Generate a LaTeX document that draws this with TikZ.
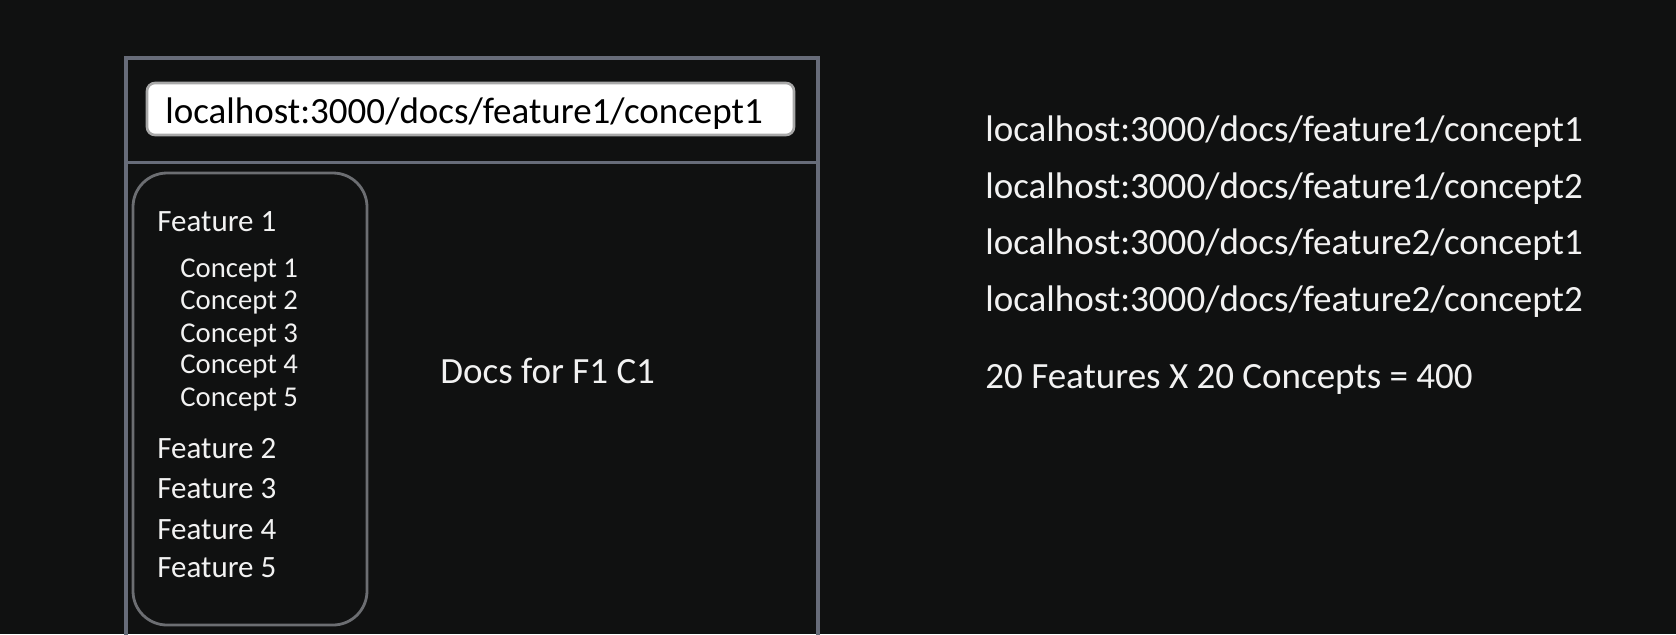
\documentclass[tikz,border=0pt]{standalone}
\usepackage{fontspec}
\setmainfont{Carlito}
\definecolor{bg}{HTML}{101111}
\definecolor{fg}{HTML}{F2F2F2}
\definecolor{framec}{HTML}{676C79}
\definecolor{sidec}{HTML}{6C6E72}
\definecolor{urlborder}{HTML}{A8A8A8}
\begin{document}
\begin{tikzpicture}[x=0.5pt,y=-0.5pt,
  big/.style={anchor=base west, inner sep=0pt, text=fg, font=\fontsize{18.5}{22}\selectfont},
  urltext/.style={anchor=base west, inner sep=0pt, text=black, font=\fontsize{18.5}{22}\selectfont},
  feat/.style={anchor=base west, inner sep=0pt, text=fg, font=\fontsize{15.5}{18}\selectfont},
  conc/.style={anchor=base west, inner sep=0pt, text=fg, font=\fontsize{14.35}{17}\selectfont},
  frameline/.style={draw=framec, line width=1.6pt},
  sidebox/.style={draw=sidec, line width=1.4pt, rounded corners=17pt},
  urlbox/.style={draw=urlborder, fill=white, line width=1.3pt, rounded corners=4pt}]
\useasboundingbox (0,0) rectangle (1676,634);
\fill[bg] (0,0) rectangle (1676,634);
\clip (0,0) rectangle (1676,634);
% browser frame
\draw[frameline] (126,660) -- (126,58) -- (818,58) -- (818,660);
\draw[frameline] (126,162.5) -- (818,162.5);
% url bar
\draw[urlbox] (147,83) rectangle (794,135);
\node[urltext] (url) at (165,123) {localhost:3000/docs/feature1/concept1};
% sidebar
\draw[sidebox] (133,173) rectangle (367,625);
\node[feat] (f1) at (157,231) {Feature 1};
\node[conc] (c1) at (180,277) {Concept 1};
\node[conc] (c2) at (180,309) {Concept 2};
\node[conc] (c3) at (180,342) {Concept 3};
\node[conc] (c4) at (180,373) {Concept 4};
\node[conc] (c5) at (180,406) {Concept 5};
\node[feat] (f2) at (157,458) {Feature 2};
\node[feat] (f3) at (157,498) {Feature 3};
\node[feat] (f4) at (157,539) {Feature 4};
\node[feat] (f5) at (157,577) {Feature 5};
% main content
\node[big] (docs) at (440,383) {Docs for F1 C1};
% right side
\node[big] (r1) at (985,141) {localhost:3000/docs/feature1/concept1};
\node[big] (r2) at (985,198) {localhost:3000/docs/feature1/concept2};
\node[big] (r3) at (985,254) {localhost:3000/docs/feature2/concept1};
\node[big] (r4) at (985,311) {localhost:3000/docs/feature2/concept2};
\node[big] (r5) at (985,388) {20 Features X 20 Concepts = 400};
\end{tikzpicture}
\end{document}
